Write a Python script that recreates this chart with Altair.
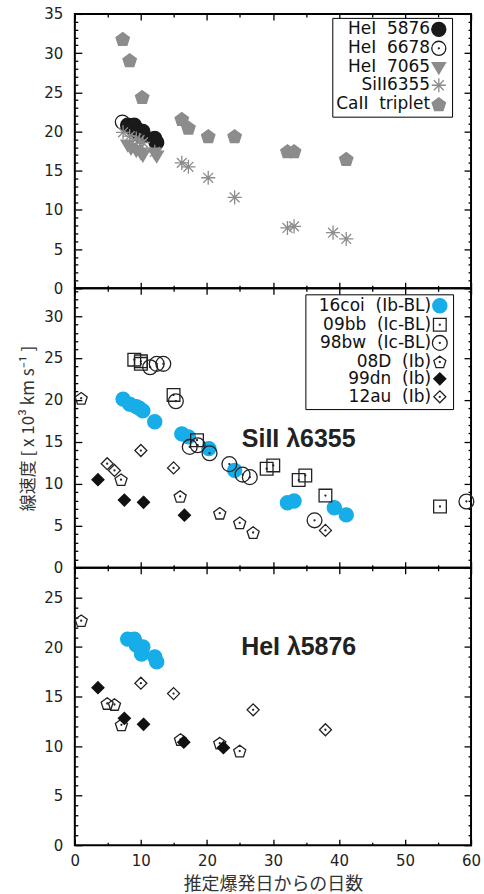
import altair as alt
import pandas as pd
import math

FONT = "DejaVu Sans"
CJK = "Noto Sans CJK JP"
GRAY = "#8c8c8c"
BLUE = "#17ade8"

# ---------------- top panel: SN 2016coi line velocities ----------------
top_names = ["HeI\u00a0\u00a05876", "HeI\u00a0\u00a06678", "HeI\u00a0\u00a07065",
             "SiII6355", "CaII\u00a0\u00a0triplet"]
he5876_day = [8.0, 9.0, 9.4, 10.3, 10.1, 12.1, 12.4]
he5876_v = [20.8, 20.8, 20.3, 20.0, 19.4, 19.1, 18.6]
he6678_day = [7.2, 8.3, 9.3, 10.3, 12.3]
he6678_v = [21.2, 20.6, 20.1, 19.5, 18.6]
he7065_day = [8.0, 8.5, 9.3, 10.0, 10.3, 12.1, 12.4]
he7065_v = [18.3, 17.9, 17.6, 17.3, 17.0, 17.3, 16.9]
si_top_day = [7.3, 8.3, 9.3, 9.8, 10.3, 12.1, 16.2, 17.2, 20.2, 24.2, 32.2, 33.2, 39.1, 41.1]
si_top_v = [19.9, 19.4, 19.1, 18.9, 18.6, 17.4, 16.0, 15.5, 14.1, 11.6, 7.7, 7.9, 7.1, 6.3]
ca_day = [7.25, 8.3, 10.2, 16.2, 17.2, 20.2, 24.2, 32.2, 33.2, 41.1]
ca_v = [31.8, 29.1, 24.4, 21.6, 20.5, 19.4, 19.4, 17.5, 17.5, 16.5]

# ---------------- middle panel: SiII 6355 ----------------
sn_names = ["16coi\u00a0\u00a0(Ib-BL)", "09bb\u00a0\u00a0(Ic-BL)", "98bw\u00a0\u00a0(Ic-BL)",
            "08D\u00a0\u00a0(Ib)", "99dn\u00a0\u00a0(Ib)", "12au\u00a0\u00a0(Ib)"]
si_16coi_day = [7.3, 8.3, 9.3, 9.8, 10.3, 12.1, 16.2, 17.2, 20.3, 24.2, 32.2, 33.2, 39.3, 41.1]
si_16coi_v = [20.1, 19.5, 19.2, 19.0, 18.7, 17.4, 15.95, 15.6, 14.2, 11.6, 7.75, 7.95, 7.15, 6.3]
si_09bb_day = [9.0, 10.0, 10.0, 14.95, 18.5, 29.05, 30.05, 33.9, 34.9, 37.95, 55.3]
si_09bb_v = [24.8, 24.6, 24.3, 20.6, 15.2, 11.8, 12.2, 10.45, 11.0, 8.6, 7.3]
si_98bw_day = [11.4, 12.4, 13.4, 15.3, 17.4, 18.6, 20.4, 23.4, 25.4, 26.5, 36.3, 59.3]
si_98bw_v = [23.9, 24.3, 24.3, 19.85, 14.4, 14.6, 13.65, 12.35, 11.1, 10.8, 5.65, 7.9]
si_08D_day = [0.96, 7.0, 15.95, 21.95, 24.97, 27.0]
si_08D_v = [20.2, 10.5, 8.5, 6.5, 5.36, 4.2]
si_99dn_day = [3.5, 7.5, 10.4, 16.6]
si_99dn_v = [10.5, 8.06, 7.8, 6.27]
si_12au_day = [4.9, 6.0, 10.0, 14.95, 37.95]
si_12au_v = [12.4, 11.6, 13.97, 11.9, 4.45]

# ---------------- bottom panel: HeI 5876 ----------------
he_16coi_day = [8.0, 9.0, 9.3, 10.3, 10.1, 12.1, 12.4]
he_16coi_v = [20.8, 20.8, 20.2, 20.0, 19.3, 19.0, 18.5]
he_08D_day = [0.96, 4.9, 6.0, 7.05, 16.0, 21.95, 24.97]
he_08D_v = [22.66, 14.3, 14.2, 12.15, 10.67, 10.3, 9.5]
he_99dn_day = [3.5, 7.5, 10.4, 16.5, 22.5]
he_99dn_v = [15.9, 12.8, 12.2, 10.4, 9.84]
he_12au_day = [10.0, 14.95, 27.0, 37.95]
he_12au_v = [16.35, 15.3, 13.66, 11.65]


# ---------------- symbol paths (optionally shifted, for the legend) ----------------
def circ(r, dx=0.0):
    return (f"M{dx-r:.3f},0A{r},{r},0,1,0,{dx+r:.3f},0"
            f"A{r},{r},0,1,0,{dx-r:.3f},0Z")

def dot(dx=0.0):
    return circ(0.07, dx)

def poly(pts, dx=0.0):
    return "M" + "L".join(f"{x+dx:.3f},{y:.3f}" for x, y in pts) + "Z"

def pent_pts(r):
    return [(r*math.cos(math.radians(-90+72*k)), r*math.sin(math.radians(-90+72*k)) + 0.1*r)
            for k in range(5)]

def S_circle(dx=0): return circ(1.0, dx)
def S_circle_dot(dx=0): return circ(1.0, dx) + dot(dx)
def S_circle_dot_big(dx=0): return circ(1.05, dx) + dot(dx)
def S_square_dot(dx=0): return poly([(-0.9, -0.9), (0.9, -0.9), (0.9, 0.9), (-0.9, 0.9)], dx) + dot(dx)
def S_pent(dx=0): return poly(pent_pts(1.0), dx)
def S_pent_dot(dx=0): return poly(pent_pts(0.9), dx) + dot(dx)
def S_diam(dx=0): return poly([(0, -0.85), (0.85, 0), (0, 0.85), (-0.85, 0)], dx)
def S_diam_dot(dx=0): return S_diam(dx) + dot(dx)
def S_tri(dx=0): return poly([(-0.95, -0.65), (0.95, -0.65), (0, 0.95)], dx)
def S_aster(dx=0):
    segs = [(0, -1, 0, 1), (-1, 0, 1, 0), (-0.7, -0.7, 0.7, 0.7), (-0.7, 0.7, 0.7, -0.7)]
    return "".join(f"M{a+dx:.3f},{b}L{c+dx:.3f},{d}" for a, b, c, d in segs)

top_shape_fns = [S_circle, S_circle_dot, S_tri, S_aster, S_pent]
top_fills = ["#1a1a1a", "transparent", GRAY, "transparent", GRAY]
top_strokes = ["#1a1a1a", "#1a1a1a", GRAY, GRAY, GRAY]

sn_shape_fns = [S_circle, S_square_dot, S_circle_dot_big, S_pent_dot, S_diam, S_diam_dot]
sn_fills = [BLUE, "transparent", "transparent", "transparent", "#111111", "transparent"]
sn_strokes = [BLUE, "#222222", "#222222", "#222222", "#111111", "#222222"]


def long_df(series):
    rows = []
    for name, d, v in series:
        for a, b in zip(d, v):
            rows.append({"s": name, "day": a, "v": b})
    return pd.DataFrame(rows)


top_df = long_df([
    (top_names[4], ca_day, ca_v),
    (top_names[1], he6678_day, he6678_v),
    (top_names[0], he5876_day, he5876_v),
    (top_names[3], si_top_day, si_top_v),
    (top_names[2], he7065_day, he7065_v),
])
mid_df = long_df([
    (sn_names[0], si_16coi_day, si_16coi_v),
    (sn_names[1], si_09bb_day, si_09bb_v),
    (sn_names[2], si_98bw_day, si_98bw_v),
    (sn_names[3], si_08D_day, si_08D_v),
    (sn_names[4], si_99dn_day, si_99dn_v),
    (sn_names[5], si_12au_day, si_12au_v),
])
bot_df = long_df([
    (sn_names[0], he_16coi_day, he_16coi_v),
    (sn_names[3], he_08D_day, he_08D_v),
    (sn_names[4], he_99dn_day, he_99dn_v),
    (sn_names[5], he_12au_day, he_12au_v),
])

W = 397
SYM = 200            # symbol area
UNIT = math.sqrt(SYM) / 2   # px per path unit
SW = math.sqrt(SYM) + 1.3   # legend symbol column width


def ax(orient, values, size, labels=False, title=None, **kw):
    return alt.Axis(orient=orient, values=values, tickSize=size, offset=-size,
                    domain=False, grid=False, labels=labels, ticks=True,
                    tickColor="black", tickWidth=1.3, title=title, labelFlush=False,
                    **kw)


def panel(df, ymax, names, shape_fns, fills, strokes, legend_spec, x_labels, y_title,
          height, note, note_xy):
    xs = alt.Scale(domain=[0, 60], nice=False, zero=False)
    ys = alt.Scale(domain=[0, ymax], nice=False, zero=False)
    ymaj = list(range(0, int(ymax) + 1, 5))
    ymin = [v for v in range(0, int(ymax) + 1) if v % 5 != 0]
    xmaj = list(range(0, 61, 10))
    xmin = list(range(5, 60, 10))

    if x_labels:
        xaxis = ax("bottom", xmaj, 6, labels=True, labelPadding=8,
                   title="推定爆発日からの日数", titleFont=CJK, titleFontSize=18,
                   titleFontWeight="normal", titleColor="#333333", titlePadding=7)
    else:
        xaxis = ax("bottom", xmaj, 6)
    yaxis = ax("left", ymaj, 7, labels=True, labelPadding=12, title=y_title,
               titleFont=CJK, titleFontSize=17, titleFontWeight="normal",
               titleColor="#333333", titlePadding=6)

    pts = alt.Chart(df).mark_point(opacity=1, size=SYM, strokeWidth=1.3).encode(
        x=alt.X("day:Q", scale=xs, axis=xaxis),
        y=alt.Y("v:Q", scale=ys, axis=yaxis),
        shape=alt.Shape("s:N", scale=alt.Scale(domain=names, range=[f() for f in shape_fns]), legend=None),
        fill=alt.Fill("s:N", scale=alt.Scale(domain=names, range=fills), legend=None),
        stroke=alt.Stroke("s:N", scale=alt.Scale(domain=names, range=strokes), legend=None),
    )
    base = alt.Chart(df).mark_point(opacity=0)
    l2 = base.encode(x=alt.X("day:Q", scale=xs, axis=ax("bottom", xmin, 3)),
                     y=alt.Y("v:Q", scale=ys, axis=ax("left", ymin, 3)))
    l3 = base.encode(x=alt.X("day:Q", scale=xs, axis=ax("top", xmaj, 6)),
                     y=alt.Y("v:Q", scale=ys, axis=ax("right", ymaj, 7)))
    l4 = base.encode(x=alt.X("day:Q", scale=xs, axis=ax("top", xmin, 3)),
                     y=alt.Y("v:Q", scale=ys, axis=ax("right", ymin, 3)))
    layers = [l2, l3, l4, pts]
    if legend_spec is not None:
        lx, ly, L, rp = legend_spec
        shift = (SW / 2 + L + 9.5) / UNIT
        lg = alt.Legend(title=None, orient="none", legendX=lx, legendY=ly,
                        strokeColor="black", fillColor="white", padding=3,
                        labelFont=FONT, labelFontSize=17, labelColor="#111111",
                        labelAlign="right", labelOffset=L, symbolSize=SYM,
                        symbolStrokeWidth=1.3, rowPadding={"expr": str(rp)},
                        labelLimit=300)
        ldf = pd.DataFrame({"s2": names, "day": [0] * len(names), "v": [0] * len(names)})
        legl = alt.Chart(ldf).transform_filter("false").mark_point(
            opacity=1, size=SYM, strokeWidth=1.3).encode(
            x=alt.X("day:Q", scale=xs, axis=None),
            y=alt.Y("v:Q", scale=ys, axis=None),
            shape=alt.Shape("s2:N", scale=alt.Scale(domain=names, range=[f(shift) for f in shape_fns]), legend=lg),
            fill=alt.Fill("s2:N", scale=alt.Scale(domain=names, range=fills), legend=lg),
            stroke=alt.Stroke("s2:N", scale=alt.Scale(domain=names, range=strokes), legend=lg),
        )
        layers.append(legl)
    if note:
        ndf = pd.DataFrame({"t": [note], "day": [note_xy[0]], "v": [note_xy[1]]})
        txt = alt.Chart(ndf).mark_text(font="Liberation Sans", fontWeight="bold",
                                       fontSize=25, color="#222222").encode(
            x=alt.X("day:Q", scale=xs, axis=None),
            y=alt.Y("v:Q", scale=ys, axis=None),
            text="t:N")
        layers.append(txt)
    return alt.layer(*layers).resolve_axis(x="independent", y="independent").resolve_scale(
        shape="independent", fill="independent", stroke="independent").properties(
        width=W, height=height)


top = panel(top_df, 35, top_names, top_shape_fns, top_fills, top_strokes, (258, 4, 78, -2.2),
            False, None, 275, None, None)
mid = panel(mid_df, 33.3, sn_names, sn_shape_fns, sn_fills, sn_strokes, (231, 6, 106, -1.8),
            False, "線速度 [ x 10³ km s⁻¹ ]", 280, "SiII λ6355", (33.9, 15.3))
bot = panel(bot_df, 28, sn_names, sn_shape_fns, sn_fills, sn_strokes, None,
            True, None, 278, "HeI λ5876", (33.9, 20.0))

chart = alt.vconcat(top, mid, bot, spacing=0, bounds="flush").resolve_scale(
    x="independent", y="independent", shape="independent", fill="independent",
    stroke="independent"
).properties(
    padding={"left": 18, "top": 5, "right": 2, "bottom": 2}, background="white"
).configure_view(stroke="black", strokeWidth=2).configure_axis(
    labelFont=FONT, labelFontSize=15, labelColor="#222222"
)

chart.save("out.html", embed_options={"renderer": "svg", "actions": False})
